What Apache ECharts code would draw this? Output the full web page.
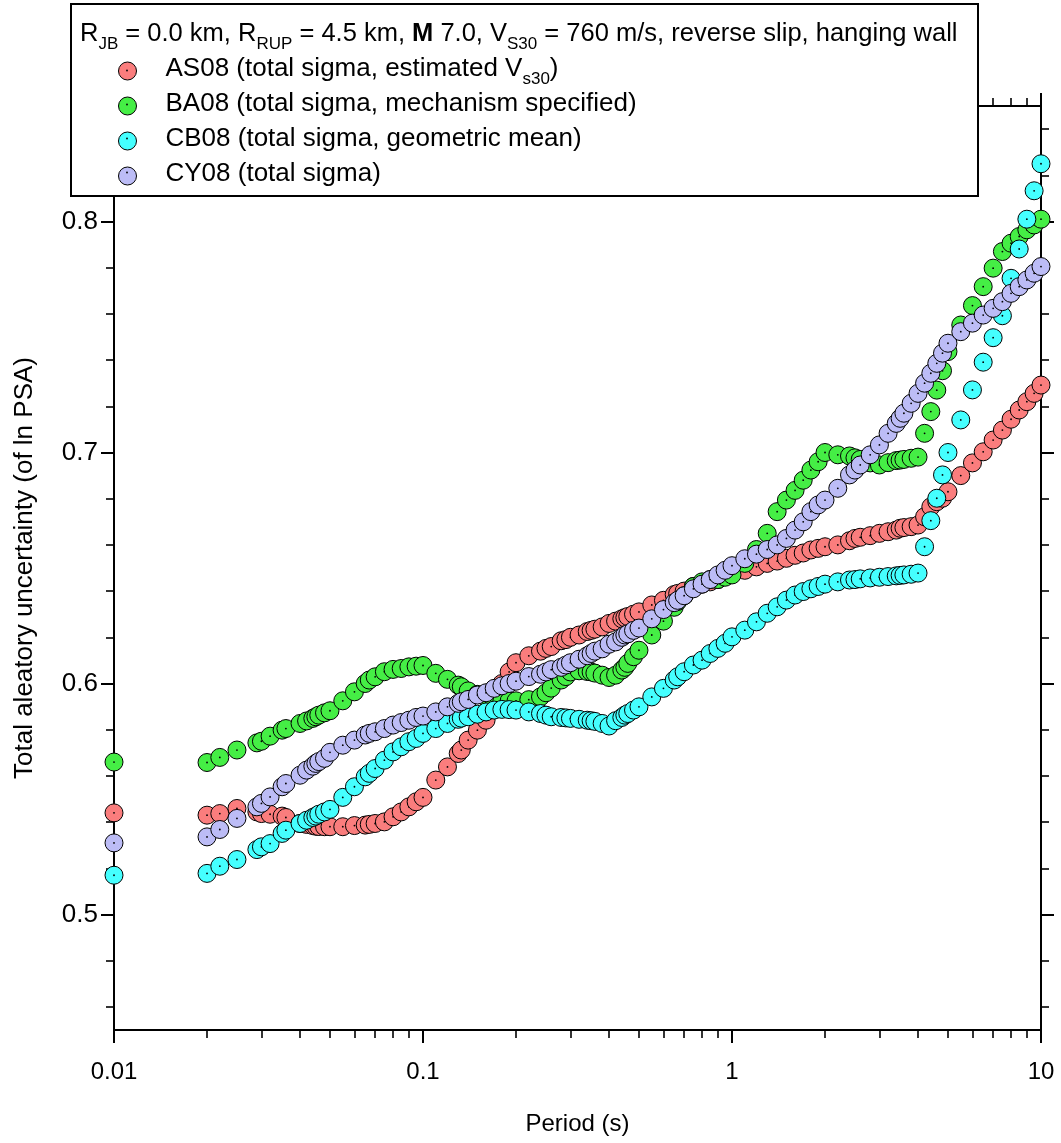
<!DOCTYPE html>
<html><head><meta charset="utf-8">
<script src="https://cdn.jsdelivr.net/npm/echarts@6/dist/echarts.min.js"></script>
<style>html,body{margin:0;padding:0;background:#fff}#c{width:1061px;height:1143px}</style>
</head><body><div id="c"></div><script>
const periods = [0.01,0.02,0.022,0.025,0.029,0.03,0.032,0.035,0.036,0.04,0.042,0.044,0.045,0.046,0.048,0.05,
0.055,0.06,0.065,0.067,0.07,0.075,0.08,0.085,0.09,0.095,0.1,
0.11,0.12,0.13,0.133,0.14,0.15,0.16,0.17,0.18,0.19,0.2,
0.22,0.24,0.25,0.26,0.28,0.29,0.3,0.32,0.34,0.35,0.36,0.38,0.4,0.42,0.44,0.45,0.46,0.48,0.5,
0.55,0.6,0.65,0.667,0.7,0.75,0.8,0.85,0.9,0.95,1,
1.1,1.2,1.3,1.4,1.5,1.6,1.7,1.8,1.9,2,
2.2,2.4,2.5,2.6,2.8,3,3.2,3.4,3.5,3.6,3.8,4,4.2,4.4,4.6,4.8,5,
5.5,6,6.5,7,7.5,8,8.5,9,9.5,10];

const as08 = [0.544,0.543,0.5437,0.5459,0.5444,0.5437,0.5434,0.5426,0.542,0.5394,0.539,0.5385,0.5382,0.5381,0.538,0.538,
0.538,0.5385,0.5387,0.539,0.5394,0.5401,0.5423,0.5444,0.5466,0.5488,0.5507,
0.5582,0.5639,0.5697,0.5712,0.5755,0.5798,0.5841,0.594,0.600,0.605,0.609,
0.612,0.614,0.6152,0.616,0.6185,0.619,0.620,0.621,0.6225,0.623,0.6235,0.6245,0.626,0.627,0.628,0.6285,0.629,0.630,0.631,
0.634,0.636,0.6385,0.639,0.640,0.642,0.643,0.644,0.645,0.6465,0.6477,
0.649,0.6505,0.652,0.653,0.6542,0.6555,0.6565,0.6578,0.6585,0.6592,
0.660,0.6618,0.6628,0.6633,0.664,0.665,0.6657,0.6664,0.6672,0.6675,0.6679,0.6686,0.6722,0.6765,0.6787,0.6802,0.683,
0.690,0.6955,0.7003,0.7054,0.7097,0.7144,0.7184,0.722,0.7256,0.7292];

const ba08 = [0.566,0.5658,0.568,0.5712,0.5743,0.575,0.5772,0.5798,0.5805,0.5827,0.5838,0.5849,0.5856,0.5863,0.5873,0.5882,
0.5925,0.5964,0.600,0.6015,0.6029,0.6051,0.6061,0.6065,0.6072,0.6075,0.6078,
0.6044,0.6018,0.5993,0.5986,0.5968,0.5953,0.594,0.593,0.5925,0.5925,0.5925,
0.593,0.5942,0.596,0.598,0.6015,0.603,0.605,0.6055,0.6052,0.605,0.6045,0.6036,0.6026,0.6036,0.6058,0.607,0.6087,0.6116,0.6144,
0.621,0.627,0.633,0.6355,0.638,0.642,0.644,0.645,0.645,0.646,0.647,
0.652,0.658,0.665,0.6744,0.6794,0.6836,0.688,0.6924,0.696,0.700,
0.699,0.6985,0.6977,0.697,0.6955,0.6946,0.6956,0.6965,0.6967,0.697,0.6975,0.698,0.7083,0.7177,0.727,0.7354,0.7437,
0.7552,0.7636,0.7718,0.7798,0.787,0.7906,0.7935,0.7964,0.7985,0.801];

const cb08 = [0.517,0.5178,0.5209,0.5238,0.5281,0.5293,0.5307,0.5351,0.5365,0.5394,0.5408,0.542,0.5426,0.5434,0.5444,0.5455,
0.5507,0.5553,0.5596,0.5611,0.5632,0.5668,0.5704,0.5726,0.5748,0.5762,0.5784,
0.5805,0.5827,0.5845,0.585,0.5856,0.5867,0.5877,0.5885,0.5888,0.5887,0.5885,
0.5877,0.587,0.5863,0.5856,0.5853,0.5851,0.5849,0.5845,0.5841,0.5839,0.5836,0.5827,0.5816,0.5839,0.5853,0.5863,0.587,0.5885,0.5899,
0.5942,0.5979,0.6015,0.6029,0.6051,0.608,0.6101,0.613,0.6152,0.6174,0.6202,
0.6231,0.6267,0.6304,0.6332,0.6361,0.6383,0.6398,0.641,0.642,0.643,
0.644,0.6448,0.645,0.6453,0.6457,0.646,0.6463,0.6466,0.6468,0.647,0.6473,0.6478,0.6592,0.6705,0.6802,0.6903,0.700,
0.7141,0.7271,0.7391,0.7497,0.7592,0.7754,0.7881,0.801,0.8133,0.825];

const cy08 = [0.531,0.5336,0.5368,0.5416,0.5466,0.5481,0.5509,0.5553,0.5567,0.5603,0.5625,0.5642,0.5654,0.5662,0.5676,0.5702,
0.5733,0.5755,0.5777,0.5784,0.5791,0.5805,0.582,0.5831,0.5841,0.5853,0.5859,
0.5877,0.5899,0.5914,0.5921,0.5931,0.595,0.596,0.5979,0.599,0.600,0.601,
0.603,0.604,0.605,0.606,0.607,0.608,0.609,0.6105,0.612,0.613,0.614,0.615,0.617,0.618,0.620,0.621,0.6215,0.623,0.624,
0.628,0.632,0.635,0.636,0.638,0.641,0.643,0.645,0.647,0.649,0.651,
0.654,0.656,0.658,0.660,0.6628,0.6664,0.670,0.6744,0.6773,0.6794,
0.6845,0.6903,0.6924,0.6946,0.699,0.7033,0.7083,0.7126,0.7148,0.717,0.7213,0.7256,0.730,0.7343,0.7386,0.743,0.7473,
0.7523,0.756,0.7595,0.7624,0.7653,0.7689,0.7718,0.7747,0.7776,0.7805];

const seriesNames = ['AS08', 'BA08', 'CB08', 'CY08'];
const seriesValues = [as08, ba08, cb08, cy08];
const seriesColors = ['#fa7d7d', '#45ee45', '#45ffff', '#bcbcf6'];
const legendLabels = {
  AS08: '{n|AS08 (total sigma, estimated V}{s|s30}{n|)}',
  BA08: '{n|BA08 (total sigma, mechanism specified)}{s| }',
  CB08: '{n|CB08 (total sigma, geometric mean)}{s| }',
  CY08: '{n|CY08 (total sigma)}{s| }'
};
const headerText = '{n|R}{s|JB}{n| = 0.0 km, R}{s|RUP}{n| = 4.5 km, }{b|M}{n| 7.0, V}{s|S30}{n| = 760 m/s, reverse slip, hanging wall}';
const xMajorTicks = [0.01, 0.1, 1, 10];
const xMinorTicks = [0.02,0.03,0.04,0.05,0.06,0.07,0.08,0.09,0.2,0.3,0.4,0.5,0.6,0.7,0.8,0.9,2,3,4,5,6,7,8,9];
const yMajorTicks = [0.5, 0.6, 0.7, 0.8];
const yMinorTicks = [0.46,0.48,0.52,0.54,0.56,0.58,0.62,0.64,0.66,0.68,0.72,0.74,0.76,0.78,0.82,0.84];
const xTitle = 'Period (s)';
const yTitle = 'Total aleatory uncertainty (of ln PSA)';

const FONT = "'Liberation Sans', Arial, Helvetica, sans-serif";
function richStyles(size) {
  return {
    n: { fontSize: size, lineHeight: 30, verticalAlign: 'top', fontFamily: FONT, fontWeight: 'normal', color: '#000' },
    b: { fontSize: size, lineHeight: 30, verticalAlign: 'top', fontFamily: FONT, fontWeight: 'bold', color: '#000' },
    s: { fontSize: 17, lineHeight: 16, padding: [17, 0, 0, 0], fontFamily: FONT, fontWeight: 'normal', color: '#000' }
  };
}

const chart = echarts.init(document.getElementById('c'), null, { renderer: 'canvas' });

function xAxisDef(gridIndex, position, ticks, len, showLine, extra) {
  return Object.assign({
    type: 'log', logBase: 10, min: 0.01, max: 10, gridIndex, position,
    axisLine: { show: showLine, lineStyle: { color: '#000', width: 2 } },
    axisTick: { show: true, inside: false, length: len, customValues: ticks, lineStyle: { color: '#000', width: showLine ? 2 : 1.6 } },
    axisLabel: { show: false },
    splitLine: { show: false }, minorTick: { show: false }
  }, extra || {});
}
function yAxisDef(gridIndex, position, ticks, len, showLine, extra) {
  return Object.assign({
    type: 'value', min: 0.45, max: 0.85, gridIndex, position,
    axisLine: { show: showLine, onZero: false, lineStyle: { color: '#000', width: 2 } },
    axisTick: { show: true, inside: false, length: len, customValues: ticks, lineStyle: { color: '#000', width: showLine ? 2 : 1.6 } },
    axisLabel: { show: false },
    splitLine: { show: false }
  }, extra || {});
}

const gridRect = { left: 114, right: 20, top: 106, bottom: 113 };

function renderer(color) {
  return function (params, api) {
    const p = api.coord([api.value(0), api.value(1)]);
    return {
      type: 'group',
      children: [
        { type: 'circle', shape: { cx: p[0], cy: p[1], r: 9 }, style: { fill: color, stroke: '#000', lineWidth: 1 } },
        { type: 'circle', shape: { cx: p[0], cy: p[1], r: 0.9 }, style: { fill: '#000' } }
      ]
    };
  };
}

const legendTop = 54, legendRow = 34, legendLeft = 118;
const legendDots = seriesNames.map((n, i) => ({
  type: 'circle', z: 300, silent: true,
  shape: { cx: legendLeft + 9, cy: legendTop + 16.5 + i * legendRow, r: 0.9 },
  style: { fill: '#000' }
}));

const option = {
  animation: false,
  backgroundColor: '#fff',
  grid: [Object.assign({}, gridRect), Object.assign({}, gridRect)],
  xAxis: [
    xAxisDef(0, 'bottom', xMajorTicks, 13, true, {
      axisLabel: { show: true, customValues: xMajorTicks, formatter: v => String(v), fontSize: 24, fontFamily: FONT, color: '#000', margin: 30 },
      name: xTitle, nameLocation: 'middle', nameGap: 82,
      nameTextStyle: { fontSize: 24, fontFamily: FONT, color: '#000' }
    }),
    xAxisDef(0, 'top', xMajorTicks, 13, true),
    xAxisDef(1, 'bottom', xMinorTicks, 8, false),
    xAxisDef(1, 'top', xMinorTicks, 8, false)
  ],
  yAxis: [
    yAxisDef(0, 'left', yMajorTicks, 13, true, {
      axisLabel: { show: true, customValues: yMajorTicks, formatter: v => v.toFixed(1), fontSize: 26, fontFamily: FONT, color: '#000', margin: 16 },
      name: yTitle, nameLocation: 'middle', nameGap: 76, nameRotate: 90,
      nameTextStyle: { fontSize: 26, fontFamily: FONT, color: '#000' }
    }),
    yAxisDef(0, 'right', yMajorTicks, 13, true),
    yAxisDef(1, 'left', yMinorTicks, 8, false),
    yAxisDef(1, 'right', yMinorTicks, 8, false)
  ],
  title: {
    text: headerText, left: 80, top: 21, padding: 0, z: 200,
    textStyle: { rich: richStyles(25.5) }
  },
  legend: {
    orient: 'vertical', left: legendLeft, top: legendTop, padding: 0, itemGap: 1, z: 200,
    itemWidth: 66, itemHeight: 18, icon: 'circle',
    itemStyle: { borderColor: '#000', borderWidth: 1 },
    data: seriesNames,
    formatter: name => legendLabels[name],
    textStyle: { rich: richStyles(26) }
  },
  graphic: {
    elements: [
      { type: 'rect', z: 100, shape: { x: 71, y: 4, width: 907, height: 192 }, style: { fill: '#fff', stroke: '#000', lineWidth: 2 } }
    ].concat(legendDots)
  },
  series: seriesNames.map((name, i) => ({
    name, type: 'custom', xAxisIndex: 0, yAxisIndex: 0,
    itemStyle: { color: seriesColors[i] },
    renderItem: renderer(seriesColors[i]),
    encode: { x: 0, y: 1 },
    data: periods.map((t, k) => [t, seriesValues[i][k]])
  }))
};
chart.setOption(option);
</script></body></html>
